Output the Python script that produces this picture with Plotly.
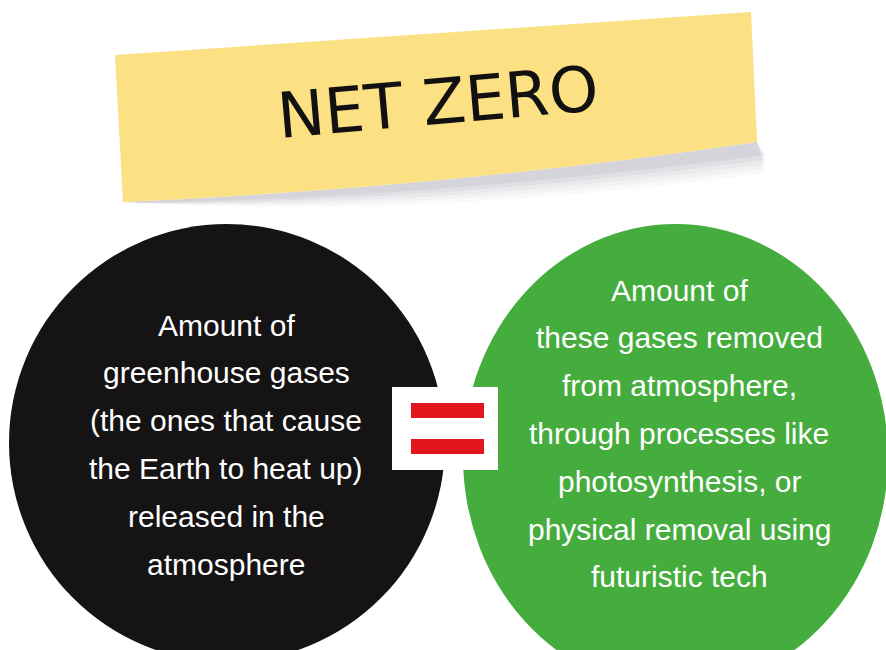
import plotly.graph_objects as go

W, H = 886, 650

title_text = "NET ZERO"
left_lines = [
    "Amount of",
    "greenhouse gases",
    "(the ones that cause",
    "the Earth to heat up)",
    "released in the",
    "atmosphere",
]
right_lines = [
    "Amount of",
    "these gases removed",
    "from atmosphere,",
    "through processes like",
    "photosynthesis, or",
    "physical removal using",
    "futuristic tech",
]

BLACK = "#161314"
GREEN = "#45ad3e"
YELLOW = "#fce084"
RED = "#e3161d"
BODY_FONT = "Liberation Sans, Arial, sans-serif"

fig = go.Figure()
shapes = []

# sticky-note shadow (soft grey gradient under the lower edge)
for dy, op in [(26, 0.05), (21, 0.06), (16, 0.08), (11, 0.10), (6, 0.12)]:
    shapes.append(dict(
        type="path",
        path=(f"M 140,203 Q 430,{192 + dy} 765,{150 + dy * 0.9} "
              f"L 757,142 Q 440,188 123,202 Z"),
        fillcolor=f"rgba(140,135,155,{op})", line=dict(width=0), layer="below"))
# sticky note
shapes.append(dict(
    type="path",
    path="M 115,55 L 751,12 L 757,142 Q 440,188 123,202 Z",
    fillcolor=YELLOW, line=dict(width=0), layer="below"))

# circles
shapes.append(dict(type="circle", x0=9, x1=445, y0=224, y1=662,
                   fillcolor=BLACK, line=dict(width=0), layer="below"))
shapes.append(dict(type="circle", x0=463, x1=888, y0=224, y1=690,
                   fillcolor=GREEN, line=dict(width=0), layer="below"))

# equals sign box
shapes.append(dict(type="rect", x0=392, x1=498, y0=387, y1=470,
                   fillcolor="white", line=dict(width=0), layer="below"))
shapes.append(dict(type="rect", x0=411, x1=484, y0=403, y1=418,
                   fillcolor=RED, line=dict(width=0), layer="below"))
shapes.append(dict(type="rect", x0=411, x1=484, y0=439, y1=454,
                   fillcolor=RED, line=dict(width=0), layer="below"))

annotations = []
annotations.append(dict(
    x=438, y=102, xref="x", yref="y", text=title_text, showarrow=False,
    textangle=-5, font=dict(family="DejaVu Sans, sans-serif", size=63, color="#111111"),
    xanchor="center", yanchor="middle"))

LINE_STEP = 47.8
for i, line in enumerate(left_lines):
    annotations.append(dict(
        x=226, y=325 + i * LINE_STEP, text=line, showarrow=False,
        font=dict(family=BODY_FONT, size=30, color="white"),
        xanchor="center", yanchor="middle"))
for i, line in enumerate(right_lines):
    annotations.append(dict(
        x=679, y=290 + i * LINE_STEP, text=line, showarrow=False,
        font=dict(family=BODY_FONT, size=30, color="white"),
        xanchor="center", yanchor="middle"))

fig.update_layout(
    width=W, height=H,
    margin=dict(l=0, r=0, t=0, b=0),
    paper_bgcolor="white", plot_bgcolor="white",
    xaxis=dict(range=[0, W], visible=False, fixedrange=True),
    yaxis=dict(range=[H, 0], visible=False, fixedrange=True),
    shapes=shapes, annotations=annotations, showlegend=False,
)
fig.write_html(
    "out.html",
    config={"displayModeBar": False},
    post_script="document.body.style.margin='0';document.body.style.overflow='hidden';",
)
